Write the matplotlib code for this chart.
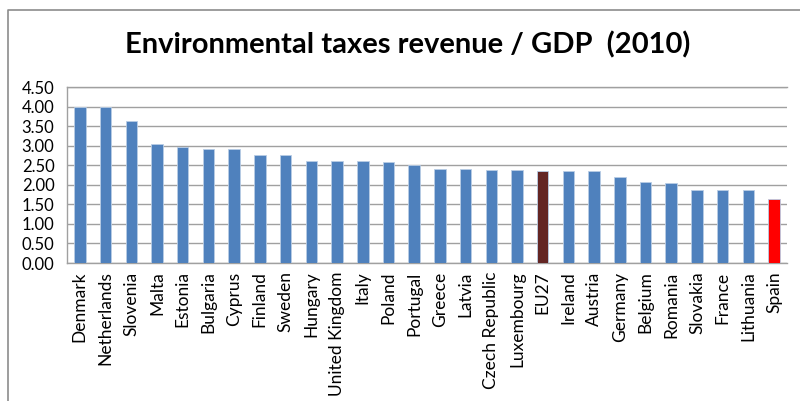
import matplotlib
matplotlib.use("Agg")
import matplotlib.pyplot as plt
from matplotlib.lines import Line2D

countries = ["Denmark", "Netherlands", "Slovenia", "Malta", "Estonia", "Bulgaria",
             "Cyprus", "Finland", "Sweden", "Hungary", "United Kingdom", "Italy",
             "Poland", "Portugal", "Greece", "Latvia", "Czech Republic", "Luxembourg",
             "EU27", "Ireland", "Austria", "Germany", "Belgium", "Romania",
             "Slovakia", "France", "Lithuania", "Spain"]
values = [4.00, 3.99, 3.62, 3.05, 2.97, 2.92,
          2.92, 2.76, 2.76, 2.61, 2.61, 2.61,
          2.58, 2.51, 2.40, 2.40, 2.38, 2.38,
          2.35, 2.35, 2.35, 2.20, 2.06, 2.04,
          1.86, 1.86, 1.86, 1.65]
yticks = [0, 0.5, 1.0, 1.5, 2.0, 2.5, 3.0, 3.5, 4.0, 4.5]

colors = []
for c in countries:
    if c == "EU27":
        colors.append("#632523")
    elif c == "Spain":
        colors.append("#FF0000")
    else:
        colors.append("#4F81BD")

plt.rcParams['font.family'] = ['Lato', 'DejaVu Sans']

fig = plt.figure(figsize=(8, 4.01), dpi=100)
ax = fig.add_axes([0.08375, 0.344, 0.90, 0.439])

x = range(len(countries))
ax.bar(x, values, width=0.45, color=colors, edgecolor="#B9CDE5", linewidth=0.6, zorder=3)

ax.set_xlim(-0.5, len(countries) - 0.5)
ax.set_ylim(0, 4.5)
ax.set_yticks(yticks)
ax.set_yticklabels(["%.2f" % v for v in yticks], fontsize=12)
ax.set_xticks(list(x))
ax.set_xticklabels(countries, rotation=90, fontsize=12.5)
ax.tick_params(axis="x", length=0, pad=6)
ax.tick_params(axis="y", length=0, pad=9)
ax.yaxis.grid(True, color="#A0A0A0", linewidth=1, zorder=0)

ax.spines["right"].set_visible(False)
for s in ["left", "bottom", "top"]:
    ax.spines[s].set_color("#A0A0A0")
    ax.spines[s].set_linewidth(1)

fig.text(0.509, 0.888, "Environmental taxes revenue / GDP  (2010)",
         ha="center", va="center", fontsize=21, fontweight="bold")

# chart area border
fig.add_artist(Line2D([0.01, 0.01, 1.0], [0.0, 1 - 10 / 401, 1 - 10 / 401],
                      color="#8C8C8C", linewidth=1.2, transform=fig.transFigure))

fig.savefig("out.png", dpi=100)
